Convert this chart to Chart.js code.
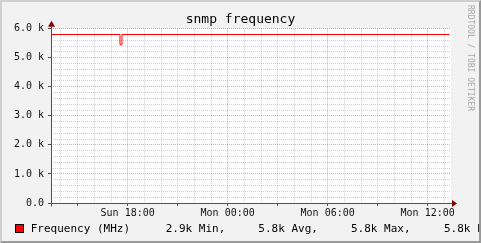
<!DOCTYPE html>
<html>
<head>
<meta charset="utf-8">
<script src="https://cdn.jsdelivr.net/npm/chart.js@4/dist/chart.umd.min.js"></script>
<style>
  body { margin: 0; background: #fff; }
  #wrap { position: relative; width: 481px; height: 243px; background: #f2f2f2; overflow: hidden;
          font-family: "DejaVu Sans Mono", monospace; color: #000; }
  #frame { position: absolute; left: 0; top: 0; width: 481px; height: 243px; box-sizing: border-box;
           border: 2px solid; border-color: #cfcfcf #9a9a9a #9a9a9a #cfcfcf; pointer-events: none; }
  canvas { position: absolute; left: 0; top: 0; }
  #title { position: absolute; left: 0; top: 11px; width: 481px; text-align: center;
           font-size: 13px; line-height: 16px; }
  .lg { position: absolute; top: 222px; font-size: 11px; line-height: 13px; white-space: pre; }
  #swatch { position: absolute; left: 15px; top: 224px; width: 9px; height: 9px; box-sizing: border-box;
            background: #ff0000; border: 1px solid #000; }
  #mark { position: absolute; left: 466px; top: 5px; writing-mode: vertical-rl; font-size: 8px;
          line-height: 9px; color: #a8a8a8; white-space: pre; }
</style>
</head>
<body>
<div id="wrap">
  <canvas id="chart" width="481" height="243"></canvas>
  <div id="title">snmp frequency</div>
  <div id="swatch"></div>
  <div class="lg" style="left:30.7px">Frequency (MHz)</div>
  <div class="lg" style="left:165.7px">2.9k Min,</div>
  <div class="lg" style="left:258.3px">5.8k Avg,</div>
  <div class="lg" style="left:351px">5.8k Max,</div>
  <div class="lg" style="left:444px">5.8k Last</div>
  <div id="mark">RRDTOOL / TOBI OETIKER</div>
  <div id="frame"></div>
</div>
<script>
// hours counted from Sun 00:00
const hours = [13.4, 17.54, 17.66, 37.3];
const freq = [5800, 5450, 5800, 5800];
const xMin = 13.4, xMax = 37.4;
const tickHours = [14, 15, 16, 17, 18, 19, 20, 21, 22, 23, 24, 25, 26, 27, 28, 29, 30, 31, 32, 33, 34, 35, 36, 37];
const xLabels = {18: "Sun 18:00", 24: "Mon 00:00", 30: "Mon 06:00", 36: "Mon 12:00"};

const minorGrid = "rgba(150,150,150,0.45)";
const majorGrid = "rgba(225,90,90,0.55)";
const axisColor = "#505050";
const arrowColor = "#7f0000";

const rrdPlugin = {
    id: "rrd",
    beforeDraw(chart) {
        const a = chart.chartArea, ctx = chart.ctx;
        ctx.save();
        ctx.fillStyle = "#ffffff";
        ctx.fillRect(a.left, a.top, a.right - a.left, a.bottom - a.top);
        ctx.restore();
    },
    afterDraw(chart) {
        const a = chart.chartArea, ctx = chart.ctx;
        const x0 = Math.round(a.left) + 0.5, y0 = Math.round(a.bottom) + 0.5;
        ctx.save();
        ctx.strokeStyle = axisColor;
        ctx.lineWidth = 1;
        ctx.beginPath();
        ctx.moveTo(x0, y0 + 3);
        ctx.lineTo(x0, a.top - 2);
        ctx.moveTo(x0 - 3, y0);
        ctx.lineTo(a.right + 1, y0);
        ctx.stroke();
        ctx.fillStyle = arrowColor;
        ctx.beginPath();
        ctx.moveTo(x0, a.top - 8);
        ctx.lineTo(x0 - 3.5, a.top - 2);
        ctx.lineTo(x0 + 3.5, a.top - 2);
        ctx.closePath();
        ctx.fill();
        ctx.beginPath();
        ctx.moveTo(a.right + 6, y0);
        ctx.lineTo(a.right + 1, y0 - 3.5);
        ctx.lineTo(a.right + 1, y0 + 3.5);
        ctx.closePath();
        ctx.fill();
        ctx.restore();
    }
};

new Chart(document.getElementById("chart"), {
    type: "line",
    data: {
        datasets: [{
            label: "Frequency (MHz)",
            data: hours.map((h, i) => ({x: h, y: freq[i]})),
            borderColor: "#ff0000",
            borderWidth: 1,
            pointRadius: 0,
            stepped: "before",
            fill: false
        }]
    },
    options: {
        responsive: false,
        animation: false,
        layout: {padding: {left: 0, right: 30, top: 28.69, bottom: 20}},
        plugins: {legend: {display: false}, tooltip: {enabled: false}, title: {display: false}},
        scales: {
            x: {
                type: "linear",
                min: xMin,
                max: xMax,
                afterBuildTicks: (scale) => { scale.ticks = tickHours.map(v => ({value: v})); },
                afterFit: (scale) => { scale.height = 20; },
                grid: {
                    color: (c) => (c.tick && c.tick.value % 6 === 0) ? majorGrid : minorGrid,
                    tickColor: (c) => (c.tick && c.tick.value % 3 === 0) ? axisColor : "rgba(0,0,0,0)",
                    tickLength: 3
                },
                border: {display: false, dash: [1, 1]},
                ticks: {
                    autoSkip: false,
                    maxRotation: 0,
                    padding: 1,
                    color: "#111",
                    font: {family: "DejaVu Sans Mono", size: 10},
                    callback: (v) => xLabels[v] || ""
                }
            },
            y: {
                min: 0,
                max: 6000,
                afterFit: (scale) => { scale.width = 51; },
                grid: {
                    color: (c) => (c.tick && c.tick.value % 1000 === 0) ? majorGrid : minorGrid,
                    tickColor: (c) => (c.tick && c.tick.value % 1000 === 0) ? axisColor : "rgba(0,0,0,0)",
                    tickLength: 3
                },
                border: {display: false, dash: [1, 1]},
                ticks: {
                    stepSize: 200,
                    autoSkip: false,
                    padding: 4,
                    color: "#111",
                    font: {family: "DejaVu Sans Mono", size: 10},
                    callback: (v) => v % 1000 !== 0 ? "" : (v === 0 ? "0.0" : (v / 1000).toFixed(1) + " k")
                }
            }
        }
    },
    plugins: [rrdPlugin]
});
</script>
</body>
</html>
